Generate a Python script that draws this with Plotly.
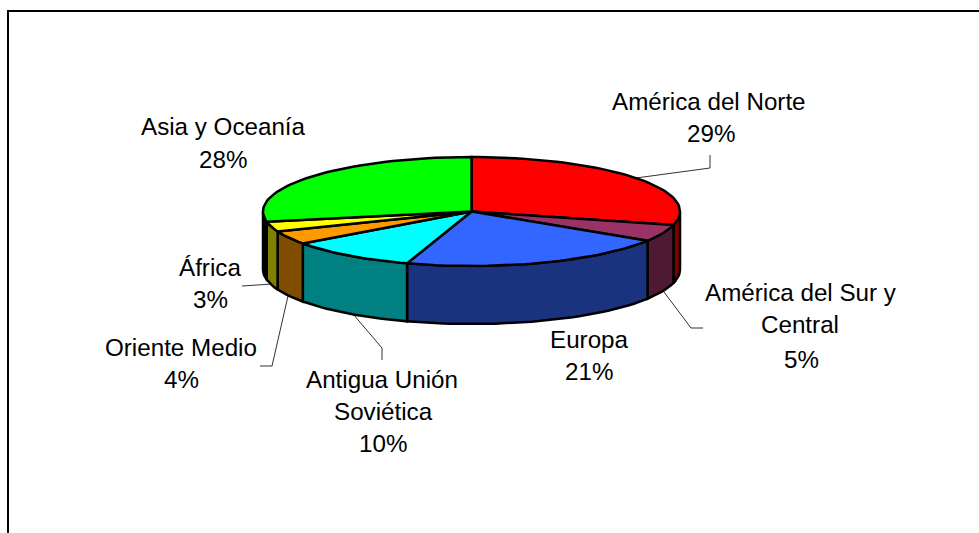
import math
import plotly.graph_objects as go

categories = ["América del Norte", "América del Sur y Central", "Europa",
              "Antigua Unión Soviética", "Oriente Medio", "África", "Asia y Oceanía"]
values = [29, 5, 21, 10, 4, 3, 28]
top_colors = ["#FF0000", "#993366", "#3366FF", "#00FFFF", "#FF9900", "#FFFF00", "#00FF00"]
wall_colors = ["#800000", "#4D1933", "#1A337F", "#008080", "#804D00", "#808000", "#000000"]

label_lines = [
    (["América del Norte", "29%"], [(709, 101), (711, 133)]),
    (["América del Sur y", "Central", "5%"], [(801, 292), (800, 324), (801, 359)]),
    (["Europa", "21%"], [(589, 339), (589, 371)]),
    (["Antigua Unión", "Soviética", "10%"], [(382, 379), (383, 411), (383, 443)]),
    (["Oriente Medio", "4%"], [(181, 347), (181, 379)]),
    (["África", "3%"], [(210, 267), (210, 299)]),
    (["Asia y Oceanía", "28%"], [(223, 126), (223, 159)]),
]
leaders = [
    [(636, 178), (710, 168), (710, 155)],
    [(664, 292), (691, 328), (703, 328)],
    [(353, 314), (382, 348), (382, 360)],
    [(288, 296), (272, 366), (260, 366)],
    [(272, 284), (242, 286)],
]

CX, CY, RX, RY, DEPTH = 471.5, 211.5, 208.5, 54.5, 58
FONT = "Liberation Sans"


def arc(a0, a1, dy=0.0):
    n = max(2, int(abs(a1 - a0) / 2) + 1)
    pts = [a0 + (a1 - a0) * i / (n - 1) for i in range(n)]
    return ([CX + RX * math.sin(math.radians(a)) for a in pts],
            [CY - RY * math.cos(math.radians(a)) + dy for a in pts])


total = sum(values)
edges = [0.0]
for v in values:
    edges.append(edges[-1] + 360.0 * v / total)

fig = go.Figure()
line = dict(color="#000000", width=2.5)


def poly(xs, ys, color, name):
    fig.add_trace(go.Scatter(x=xs, y=ys, mode="lines", fill="toself", fillcolor=color,
                             line=line, name=name, hoverinfo="name", showlegend=False))


# front walls, only the part of each slice that faces the viewer
for name, a0, a1, col in zip(categories, edges[:-1], edges[1:], wall_colors):
    lo, hi = max(a0, 90.0), min(a1, 270.0)
    if hi <= lo:
        continue
    tx, ty = arc(lo, hi)
    bx, by = arc(hi, lo, DEPTH)
    poly(tx + bx + tx[:1], ty + by + ty[:1], col, name)

# top faces
for name, a0, a1, col in zip(categories, edges[:-1], edges[1:], top_colors):
    tx, ty = arc(a0, a1)
    poly([CX] + tx + [CX], [CY] + ty + [CY], col, name)

shapes = [dict(type="path", layer="above",
               path="M 8 533 L 8 11 L 979 11",
               line=dict(color="#000000", width=2))]
for pts in leaders:
    path = "M " + " L ".join(f"{x} {y}" for x, y in pts)
    shapes.append(dict(type="path", path=path, layer="below",
                       line=dict(color="#333333", width=1)))

annotations = []
for lines, positions in label_lines:
    for text, (x, y) in zip(lines, positions):
        annotations.append(dict(x=x, y=y, text=text, showarrow=False, xref="x", yref="y",
                                xanchor="center", yanchor="middle",
                                font=dict(family=FONT, size=24.2, color="#000000")))

fig.update_layout(
    width=979, height=533, margin=dict(l=0, r=0, t=0, b=0),
    paper_bgcolor="#FFFFFF", plot_bgcolor="#FFFFFF", showlegend=False,
    xaxis=dict(range=[0, 979], visible=False, fixedrange=True),
    yaxis=dict(range=[533, 0], visible=False, fixedrange=True),
    shapes=shapes, annotations=annotations,
)
fig.write_html("out.html", config={"displayModeBar": False},
               post_script="document.body.style.margin='0';document.body.style.overflow='hidden';")
